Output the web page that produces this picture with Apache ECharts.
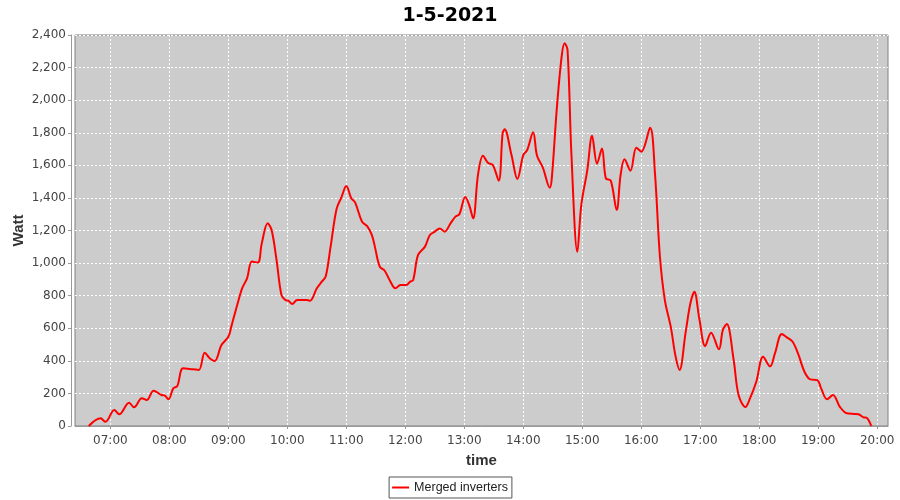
<!DOCTYPE html>
<html><head><meta charset="utf-8">
<script src="https://cdn.jsdelivr.net/npm/echarts@6/dist/echarts.min.js"></script>
<style>html,body{margin:0;padding:0;background:#fff}#c{width:900px;height:500px}</style>
</head><body><div id="c"></div>
<script>
var chartTitle = '1-5-2021';
var seriesName = 'Merged inverters';
var times = ['06:38','06:50','06:55','07:04','07:09','07:19','07:24','07:32','07:37','07:44','07:52','07:55','07:59','08:04','08:08','08:14','08:24','08:30','08:36','08:41','08:46','08:53','09:00','09:03','09:09','09:14','09:19','09:24','09:30','09:34','09:40','09:44','09:49','09:54','09:58','10:01','10:05','10:10','10:20','10:23','10:30','10:35','10:39','10:44','10:50','10:55','11:00','11:05','11:09','11:16','11:21','11:26','11:29','11:34','11:39','11:44','11:50','11:55','12:01','12:05','12:08','12:13','12:20','12:25','12:30','12:35','12:40','12:46','12:51','12:55','13:01','13:05','13:09','13:14','13:19','13:24','13:29','13:35','13:39','13:41','13:48','13:54','14:00','14:04','14:10','14:14','14:20','14:27','14:29','14:34','14:39','14:42','14:45','14:49','14:55','14:59','15:05','15:10','15:15','15:20','15:24','15:29','15:35','15:39','15:43','15:49','15:55','16:00','16:09','16:14','16:19','16:24','16:30','16:35','16:39','16:45','16:50','16:54','16:59','17:05','17:11','17:19','17:23','17:27','17:34','17:39','17:46','17:50','17:57','18:04','18:11','18:16','18:23','18:28','18:34','18:40','18:46','18:52','18:59','19:03','19:09','19:15','19:22','19:29','19:37','19:41','19:46','19:49','19:54'];
var watts = [0,47,26,98,72,143,115,170,160,217,190,188,164,231,245,354,348,344,450,416,399,497,548,610,743,845,906,1009,1003,1121,1244,1203,1019,804,773,769,749,773,773,769,845,886,917,1101,1330,1404,1473,1398,1371,1254,1228,1172,1101,978,953,896,845,865,865,886,896,1050,1101,1172,1193,1213,1193,1244,1285,1300,1406,1356,1275,1545,1659,1616,1602,1506,1797,1821,1663,1516,1663,1694,1803,1659,1585,1463,1520,1940,2267,2349,2308,1663,1070,1356,1566,1781,1610,1704,1520,1506,1326,1541,1637,1567,1708,1684,1830,1546,1039,773,610,425,344,569,753,824,661,491,573,471,589,626,405,190,117,160,272,425,366,446,565,544,517,436,333,286,282,231,164,190,118,78,74,72,53,51,0];
var xTickLabels = ['07:00','08:00','09:00','10:00','11:00','12:00','13:00','14:00','15:00','16:00','17:00','18:00','19:00','20:00'];
var yMin = 0, yMax = 2400, yStep = 200;
var xMinLabel = '06:24', xMaxLabel = '20:11';

function toMin(s){var p=s.split(':');return (+p[0])*60+(+p[1]);}
function fmt(m){var h=Math.floor(m/60),mm=Math.round(m%60);return (h<10?'0':'')+h+':'+(mm<10?'0':'')+mm;}
var data = times.map(function(t,i){return [toMin(t), watts[i]];});
var xTicks = xTickLabels.map(toMin);

var chart = echarts.init(document.getElementById('c'), null, {renderer:'canvas'});
var axisTxt = {color:'#444', fontSize:12, fontFamily:'DejaVu Sans'};
chart.setOption({
  animation:false,
  backgroundColor:'#ffffff',
  title:{text:chartTitle, left:'center', top:2, textStyle:{fontFamily:'DejaVu Sans', fontWeight:'bold', fontSize:19, color:'#000'}},
  legend:{data:[{name:seriesName, icon:'rect'}], bottom:2, left:'center', itemWidth:17, itemHeight:2, itemGap:4,
    borderColor:'#555', borderWidth:1, borderRadius:0, padding:[4,4,4,3],
    textStyle:{fontFamily:'Liberation Sans', fontSize:12.5, color:'#222'}},
  grid:{left:75, right:12, top:35, bottom:74, show:true, backgroundColor:'#cccccc', borderColor:'#808080', borderWidth:1},
  xAxis:{type:'value', min:toMin(xMinLabel), max:toMin(xMaxLabel), offset:4,
    name:'time', nameLocation:'middle', nameGap:23, nameMoveOverlap:false,
    nameTextStyle:{fontFamily:'Liberation Sans', fontWeight:'bold', fontSize:15, color:'#333'},
    axisLine:{show:true, lineStyle:{color:'#999'}},
    axisTick:{show:true, customValues:xTicks, length:3, lineStyle:{color:'#999'}},
    axisLabel:Object.assign({customValues:xTicks, margin:5, formatter:function(v){return fmt(v);}}, axisTxt),
    splitLine:{show:true, lineStyle:{color:'#ffffff', type:[2,2], width:1}}},
  yAxis:{type:'value', min:yMin, max:yMax, interval:yStep, offset:4,
    name:'Watt', nameLocation:'middle', nameGap:45, nameRotate:90, nameMoveOverlap:false,
    nameTextStyle:{fontFamily:'Liberation Sans', fontWeight:'bold', fontSize:15, color:'#333'},
    axisLine:{show:true, lineStyle:{color:'#999'}},
    axisTick:{show:true, length:3, lineStyle:{color:'#999'}},
    axisLabel:Object.assign({margin:5, formatter:function(v){return v.toLocaleString('en-US');}}, axisTxt),
    splitLine:{show:true, lineStyle:{color:'#ffffff', type:[2,2], width:1}}},
  series:[{name:seriesName, type:'line', data:data, smooth:0.35, showSymbol:false, symbol:'none',
    lineStyle:{color:'#ff0000', width:2}, itemStyle:{color:'#ff0000'}}]
});
</script></body></html>
